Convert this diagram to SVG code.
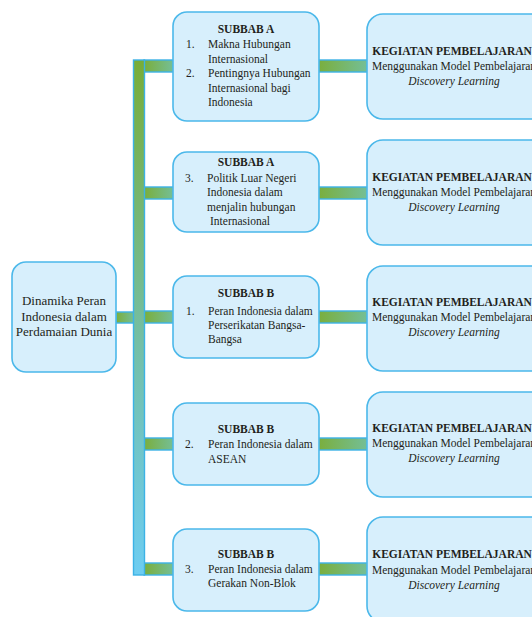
<svg xmlns="http://www.w3.org/2000/svg" width="532" height="617" viewBox="0 0 532 617">
<defs>
<linearGradient id="gh" x1="0" y1="0" x2="1" y2="0"><stop offset="0" stop-color="#7aae3c"/><stop offset="1" stop-color="#74bf98"/></linearGradient>
<linearGradient id="gv" x1="0" y1="0" x2="0" y2="1"><stop offset="0" stop-color="#78ad38"/><stop offset="0.55" stop-color="#74bfa6"/><stop offset="1" stop-color="#6dcdf2"/></linearGradient>
</defs>
<style>
.box{fill:#d7effc;stroke:#4bb8ea;stroke-width:1.6}
.bar{fill:url(#gh);stroke:#3cb2e6;stroke-width:1.4}
.vbar{fill:url(#gv);stroke:#3cb2e6;stroke-width:1.4}
text{font-family:"Liberation Serif","Times New Roman",serif;fill:#231f20;font-size:11.5px}
.b{font-weight:bold}
.c{text-anchor:middle}
.i{font-style:italic}
.l{font-size:13px}
</style>
<g id="connectors">
<rect class="bar" x="116" y="312" width="18" height="11"/>
<rect class="bar" x="144" y="60" width="30" height="12"/>
<rect class="bar" x="144" y="187" width="30" height="12"/>
<rect class="bar" x="144" y="311" width="30" height="12"/>
<rect class="bar" x="144" y="438" width="30" height="12"/>
<rect class="bar" x="144" y="563" width="30" height="12"/>
<rect class="bar" x="318" y="60" width="50" height="12"/>
<rect class="bar" x="318" y="187" width="50" height="12"/>
<rect class="bar" x="318" y="311" width="50" height="12"/>
<rect class="bar" x="318" y="438" width="50" height="12"/>
<rect class="bar" x="318" y="563" width="50" height="12"/>
<rect class="vbar" x="133.5" y="60" width="11" height="515"/>
</g>
<g id="root">
<rect class="box" x="12" y="262" width="104" height="110" rx="14"/>
<text class="c l" x="64" y="305">Dinamika Peran</text>
<text class="c l" x="64" y="320.5">Indonesia dalam</text>
<text class="c l" x="64" y="336">Perdamaian Dunia</text>
</g>
<g id="sub1">
<rect class="box" x="173" y="12" width="146" height="109" rx="14"/>
<text class="b c" x="246" y="33">SUBBAB A</text>
<text x="186" y="48">1.</text><text x="208" y="48">Makna Hubungan</text>
<text x="208" y="62.5">Internasional</text>
<text x="186" y="77">2.</text><text x="208" y="77">Pentingnya Hubungan</text>
<text x="208" y="91.5">Internasional bagi</text>
<text x="208" y="106">Indonesia</text>
</g>
<g id="sub2">
<rect class="box" x="173" y="152" width="146" height="80" rx="14"/>
<text class="b c" x="246" y="166">SUBBAB A</text>
<text x="185" y="181.5">3.</text><text x="207" y="181.5">Politik Luar Negeri</text>
<text x="207" y="196">Indonesia dalam</text>
<text x="207" y="210.5">menjalin hubungan</text>
<text x="210" y="225">Internasional</text>
</g>
<g id="sub3">
<rect class="box" x="173" y="276" width="146" height="82" rx="14"/>
<text class="b c" x="246" y="297">SUBBAB B</text>
<text x="186" y="315">1.</text><text x="208" y="315">Peran Indonesia dalam</text>
<text x="208" y="329">Perserikatan Bangsa-</text>
<text x="208" y="343">Bangsa</text>
</g>
<g id="sub4">
<rect class="box" x="173" y="403" width="146" height="82" rx="14"/>
<text class="b c" x="246" y="433">SUBBAB B</text>
<text x="185" y="448">2.</text><text x="208" y="448">Peran Indonesia dalam</text>
<text x="208" y="463">ASEAN</text>
</g>
<g id="sub5">
<rect class="box" x="173" y="529" width="146" height="82" rx="14"/>
<text class="b c" x="246" y="558">SUBBAB B</text>
<text x="185" y="573">3.</text><text x="208" y="573">Peran Indonesia dalam</text>
<text x="208" y="587">Gerakan Non-Blok</text>
</g>
<g id="kp1">
<rect class="box" x="367" y="14" width="180" height="105" rx="16"/>
<text class="b c" x="452" y="55">KEGIATAN PEMBELAJARAN</text>
<text class="c" x="454" y="70">Menggunakan Model Pembelajaran</text>
<text class="c i" x="454" y="85">Discovery Learning</text>
</g>
<g id="kp2">
<rect class="box" x="367" y="140" width="180" height="105" rx="16"/>
<text class="b c" x="452" y="181">KEGIATAN PEMBELAJARAN</text>
<text class="c" x="454" y="196">Menggunakan Model Pembelajaran</text>
<text class="c i" x="454" y="211">Discovery Learning</text>
</g>
<g id="kp3">
<rect class="box" x="367" y="266" width="180" height="105" rx="16"/>
<text class="b c" x="452" y="306">KEGIATAN PEMBELAJARAN</text>
<text class="c" x="454" y="321">Menggunakan Model Pembelajaran</text>
<text class="c i" x="454" y="336">Discovery Learning</text>
</g>
<g id="kp4">
<rect class="box" x="367" y="392" width="180" height="105" rx="16"/>
<text class="b c" x="452" y="432">KEGIATAN PEMBELAJARAN</text>
<text class="c" x="454" y="447">Menggunakan Model Pembelajaran</text>
<text class="c i" x="454" y="462">Discovery Learning</text>
</g>
<g id="kp5">
<rect class="box" x="367" y="517" width="180" height="105" rx="16"/>
<text class="b c" x="452" y="558">KEGIATAN PEMBELAJARAN</text>
<text class="c" x="454" y="574">Menggunakan Model Pembelajaran</text>
<text class="c i" x="454" y="589">Discovery Learning</text>
</g>
</svg>
